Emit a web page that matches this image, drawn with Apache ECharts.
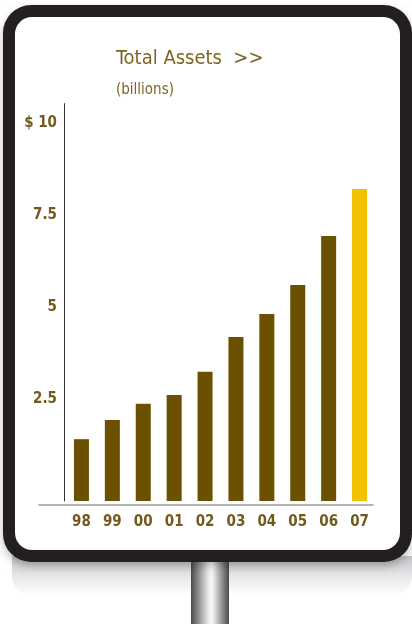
<!DOCTYPE html>
<html>
<head>
<meta charset="utf-8">
<script src="https://cdn.jsdelivr.net/npm/echarts@6/dist/echarts.min.js"></script>
<style>
html,body{margin:0;padding:0;background:#fff;}
#chart{width:412px;height:624px;}
</style>
</head>
<body>
<div id="chart"></div>
<script>
var categories = ['98','99','00','01','02','03','04','05','06','07'];
var totalAssets = [1.68, 2.20, 2.64, 2.88, 3.51, 4.46, 5.08, 5.87, 7.20, 8.48];
var yTickLabels = {2.5:'2.5', 5:'5', 7.5:'7.5', 10:'$ 10'};

var FONT = "'Liberation Sans Narrow','DejaVu Sans Condensed','Roboto Condensed',sans-serif";
var brown = '#6b5000', gold = '#f2c200', textCol = '#725a1c';

var chart = echarts.init(document.getElementById('chart'), null, {renderer:'canvas'});
chart.setOption({
  animation:false,
  backgroundColor:'#ffffff',
  graphic:[
    {type:'rect', z:-10, shape:{x:12,y:556,width:400,height:40,r:[0,0,20,20]},
     style:{fill:new echarts.graphic.LinearGradient(0,0,0,1,[{offset:0,color:'#c4c5c8'},{offset:0.5,color:'#e6e7e8'},{offset:1,color:'#ffffff'}])}},
    {type:'rect', z:-9, shape:{x:191,y:560,width:38,height:64},
     style:{fill:new echarts.graphic.LinearGradient(0,0,1,0,[{offset:0,color:'#4a4a4c'},{offset:0.45,color:'#e8e8e8'},{offset:0.55,color:'#f8f8f8'},{offset:1,color:'#4a4a4c'}])}},
    {type:'rect', z:-8, shape:{x:3,y:5,width:409,height:557,r:28},
     style:{fill:'#231f20', shadowBlur:8, shadowColor:'rgba(0,0,0,0.25)', shadowOffsetY:4}},
    {type:'rect', z:-7, shape:{x:15,y:17,width:385,height:533,r:17}, style:{fill:'#ffffff'}}
  ],
  title:[
    {text:'Total Assets  >>', left:111, top:44,
     textStyle:{fontFamily:FONT, fontSize:20, fontWeight:'normal', color:'#7d6420'}},
    {text:'(billions)', left:111, top:78,
     textStyle:{fontFamily:FONT, fontSize:15, fontWeight:'normal', color:'#7d6420'}}
  ],
  grid:[
    {left:66, right:37, top:103.6, bottom:123},
    {left:39, right:39, top:300, bottom:119}
  ],
  xAxis:[
    {type:'category', data:categories, gridIndex:0, offset:4,
     axisLine:{show:false}, axisTick:{show:false},
     axisLabel:{margin:10, fontFamily:FONT, fontSize:15, fontWeight:'bold', color:textCol}},
    {type:'category', data:[''], gridIndex:1,
     axisLine:{show:true, lineStyle:{color:'#999999', width:1.5}}, axisTick:{show:false}, axisLabel:{show:false}}
  ],
  yAxis:[
    {type:'value', gridIndex:0, min:0, max:10.8, interval:2.5, offset:2,
     splitLine:{show:false}, axisTick:{show:false},
     axisLine:{show:true, lineStyle:{color:'#333333', width:1}},
     axisLabel:{margin:7, fontFamily:FONT, fontSize:15, fontWeight:'bold', color:textCol,
       verticalAlign:'bottom', lineHeight:20,
       formatter:function(v){ return yTickLabels[v] || ''; }}},
    {type:'value', gridIndex:1, show:false}
  ],
  series:[
    {type:'bar', xAxisIndex:0, yAxisIndex:0, barWidth:15,
     data: totalAssets.map(function(v,i){
       return {value:v, itemStyle:{color: i === totalAssets.length-1 ? gold : brown}};
     })}
  ]
});
</script>
</body>
</html>
